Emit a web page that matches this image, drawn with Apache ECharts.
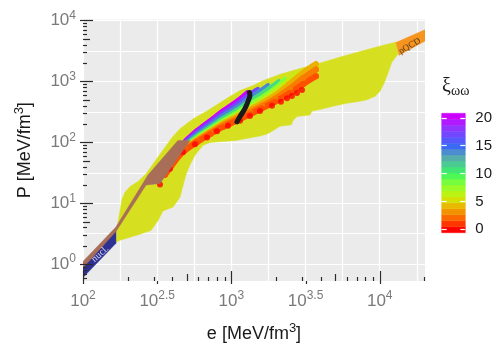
<!DOCTYPE html>
<html><head><meta charset="utf-8">
<script src="https://cdn.jsdelivr.net/npm/echarts@6/dist/echarts.min.js"></script>
<style>html,body{margin:0;padding:0;background:#fff}#c{width:500px;height:348px}</style>
</head><body><div id="c"></div>
<script>
// ---- axis ranges & tick labels (log10 units of e and P, MeV/fm^3) ----
const xRangeLog = [2, 4.305];
const yRangeLog = [-0.277, 4.016];
const xTickExps = ['2', '2.5', '3', '3.5', '4'];
const yTickExps = ['0', '1', '2', '3', '4'];
const colorbarTicks = [0, 5, 10, 15, 20];
const colorbarRange = [-0.6, 20.8];

// ---- bands: polygons [log10 e, log10 P] ----
const allowedRegion = [[2.222,0.359],[2.229,0.600],[2.249,0.873],[2.263,1.066],[2.283,1.178],[2.317,1.275],[2.371,1.355],[2.404,1.436],[2.425,1.484],[2.458,1.596],[2.505,1.757],[2.553,1.918],[2.600,2.079],[2.654,2.223],[2.741,2.384],[2.836,2.513],[2.970,2.722],[3.058,2.850],[3.146,2.931],[3.213,3.011],[3.328,3.116],[3.462,3.212],[3.577,3.285],[3.752,3.413],[3.934,3.534],[4.109,3.646],[4.123,3.445],[4.082,3.317],[4.049,3.092],[4.028,2.963],[4.001,2.834],[3.968,2.754],[3.914,2.698],[3.867,2.674],[3.779,2.641],[3.685,2.593],[3.597,2.537],[3.543,2.513],[3.530,2.449],[3.442,2.424],[3.415,2.352],[3.405,2.288],[3.328,2.264],[3.280,2.191],[3.240,2.135],[3.193,2.103],[3.031,2.031],[2.856,1.998],[2.809,1.950],[2.755,1.789],[2.721,1.629],[2.694,1.468],[2.667,1.227],[2.654,1.098],[2.607,0.937],[2.539,0.873],[2.505,0.712],[2.458,0.551],[2.357,0.471],[2.249,0.391]];
const brownBand = [[2.000,0.045],[2.222,0.608],[2.438,1.463],[2.640,2.031],[2.721,2.031],[2.519,1.323],[2.425,1.299],[2.222,0.535],[2.000,-0.059]];
const nuclearBand = [[2.000,-0.027],[2.222,0.568],[2.222,0.342],[2.000,-0.220]];
const pqcdBand = [[4.109,3.638],[4.305,3.847],[4.305,3.662],[4.130,3.429]];
const nuclLabelPos = [2.115, 0.166];
const pqcdLabelPos = [4.202, 3.579];

// ---- EoS curves coloured by xi_ww: [log10 e, log10 P] ----
const xiValues = [20, 17, 14, 11, 8, 6, 4, 2.5, 1.5];
const eosXi20 = [[2.687,2.031],[2.768,2.207],[2.856,2.368],[2.943,2.529],[3.038,2.690],[3.105,2.826]];
const eosXi17 = [[2.687,2.006],[2.768,2.175],[2.856,2.331],[2.943,2.486],[3.038,2.638],[3.125,2.802],[3.179,2.883]];
const eosXi14 = [[2.687,1.982],[2.768,2.143],[2.856,2.294],[2.943,2.444],[3.038,2.588],[3.125,2.746],[3.206,2.875],[3.247,2.947]];
const eosXi11 = [[2.687,1.963],[2.768,2.114],[2.856,2.259],[2.943,2.403],[3.038,2.542],[3.125,2.690],[3.206,2.810],[3.294,2.963],[3.321,3.011]];
const eosXi8 = [[2.687,1.942],[2.768,2.085],[2.856,2.227],[2.943,2.365],[3.038,2.497],[3.125,2.633],[3.206,2.749],[3.294,2.891],[3.361,3.051]];
const eosXi6 = [[2.687,1.923],[2.768,2.059],[2.856,2.198],[2.943,2.331],[3.038,2.457],[3.125,2.580],[3.206,2.693],[3.294,2.850],[3.395,3.043],[3.435,3.140]];
const eosXi4 = [[2.654,1.862],[2.687,1.902],[2.768,2.037],[2.856,2.172],[2.943,2.301],[3.038,2.420],[3.125,2.534],[3.206,2.641],[3.294,2.767],[3.395,2.963],[3.483,3.140],[3.570,3.285]];
const eosXi2p5 = [[2.586,1.596],[2.654,1.822],[2.687,1.886],[2.768,2.018],[2.856,2.151],[2.943,2.275],[3.038,2.387],[3.125,2.494],[3.206,2.596],[3.294,2.714],[3.395,2.883],[3.483,3.051],[3.570,3.196]];
const eosXi1p5 = [[2.553,1.468],[2.654,1.797],[2.687,1.870],[2.768,2.002],[2.856,2.132],[2.943,2.252],[3.038,2.358],[3.125,2.460],[3.206,2.558],[3.294,2.666],[3.395,2.810],[3.483,2.955],[3.570,3.084]];
const eosXi0 = [[2.519,1.307],[2.586,1.564],[2.674,1.838],[2.755,1.966],[2.836,2.079],[2.903,2.183],[2.977,2.272],[3.058,2.352],[3.125,2.432],[3.193,2.513],[3.274,2.601],[3.334,2.666],[3.375,2.722],[3.408,2.762],[3.442,2.810],[3.476,2.858]];
const blackCurve = [[3.038,2.336],[3.058,2.424],[3.082,2.513],[3.102,2.609],[3.115,2.690],[3.125,2.770],[3.122,2.818]];

// ---- colour scale ----
const xiStops = [[0,'#ff0000'],[1.5,'#ff5000'],[2.5,'#f87c00'],[4,'#ecb000'],[5,'#dcdc00'],[6.5,'#b8f514'],[8,'#88ff33'],[10,'#3cf560'],[11.5,'#48d08c'],[13,'#58a8b0'],[15,'#3a68f8'],[17,'#7048ff'],[18.5,'#9a30ff'],[20,'#cc00ff']];
function hex2rgb(h){return [parseInt(h.substr(1,2),16),parseInt(h.substr(3,2),16),parseInt(h.substr(5,2),16)];}
function colorFor(v){
  v = Math.max(0, Math.min(20, v));
  for (let i = 0; i < xiStops.length - 1; i++) {
    const a = xiStops[i], b = xiStops[i+1];
    if (v >= a[0] && v <= b[0]) {
      const t = (v - a[0]) / (b[0] - a[0]);
      const ca = hex2rgb(a[1]), cb = hex2rgb(b[1]);
      const c = ca.map((x, k) => Math.round(x + (cb[k] - x) * t));
      return 'rgb(' + c.join(',') + ')';
    }
  }
  return xiStops[xiStops.length-1][1];
}

const FONT = 'Liberation Sans, Arial, Helvetica, sans-serif';
const SERIF = 'Liberation Serif, DejaVu Serif, serif';
const gray = '#7a7a7a';
const tickCol = '#2b2b2b';
const labelRich = {
  b: {fontSize: 17, color: gray, fontFamily: FONT, lineHeight: 22, verticalAlign: 'middle'},
  s: {fontSize: 12, color: gray, fontFamily: FONT, lineHeight: 11, verticalAlign: 'top'}
};
const nameRich = {
  n: {fontSize: 18, color: '#1a1a1a', fontFamily: FONT, lineHeight: 24, verticalAlign: 'middle'},
  s: {fontSize: 13, color: '#1a1a1a', fontFamily: FONT, lineHeight: 12, verticalAlign: 'top'}
};

// tick positions (axis decoration)
const xTickVals = xTickExps.map(Number);
const yTickVals = yTickExps.map(Number);
const xGridVals = []; for (let v = 2; v <= xRangeLog[1] + 1e-9; v += 0.25) xGridVals.push(+v.toFixed(2));
const yGridVals = []; for (let v = 0; v <= yRangeLog[1] + 1e-9; v += 0.5) yGridVals.push(+v.toFixed(2));
function logTicks(range, mults){
  const out = [];
  for (let k = -1; k <= 5; k++) for (const m of mults) {
    const v = Math.log10(m) + k;
    if (v >= range[0] - 1e-9 && v <= range[1] + 1e-9) out.push(v);
  }
  return out;
}
const shortMults = [2,3,4,6,7,8,9];
// log-tick specs: [value, inner length, outer length]
const yTickSpecs = [].concat(
  logTicks(yRangeLog, [1]).map(v => [v, 10, 3]),
  logTicks(yRangeLog, [5]).map(v => [v, 7, 0]),
  logTicks(yRangeLog, shortMults).map(v => [v, 4, 0])
);
const xTickSpecs = [].concat(
  logTicks(xRangeLog, [1]).map(v => [v, 10, 3]),
  logTicks(xRangeLog, [5]).map(v => [v, 7, 0]),
  logTicks(xRangeLog, shortMults).map(v => [v, 4, 0]),
  [[2.5, 0, 3], [3.5, 0, 3]]
);

function polySeries(poly, color, z){
  return {
    type: 'custom', xAxisIndex: 0, yAxisIndex: 0, z: z, clip: true, silent: true,
    data: [poly[0]],
    renderItem: function(params, api){
      return {type: 'polygon', shape: {points: poly.map(p => api.coord(p))}, style: {fill: color, stroke: color, lineWidth: 0.5}};
    }
  };
}

const curves = [eosXi20, eosXi17, eosXi14, eosXi11, eosXi8, eosXi6, eosXi4, eosXi2p5, eosXi1p5];
const curveSeries = curves.map((c, i) => ({
  type: 'line', xAxisIndex: 0, yAxisIndex: 0, z: 3, data: c, smooth: 0.3,
  showSymbol: xiValues[i] <= 2.5, symbol: 'circle', symbolSize: 6,
  itemStyle: {color: colorFor(xiValues[i])},
  lineStyle: {color: colorFor(xiValues[i]), width: xiValues[i] <= 4 ? 6 : 3.6, cap: 'round'},
  silent: true
}));

// colour bar bins (legend decoration)
const nBins = 20;
const cbBins = [];
for (let i = 0; i < nBins; i++) {
  const lo = colorbarRange[0] + i * (colorbarRange[1] - colorbarRange[0]) / nBins;
  const hi = lo + (colorbarRange[1] - colorbarRange[0]) / nBins;
  cbBins.push([lo, hi]);
}

const titleGraphic = {
  type: 'text', left: 442, top: 77, z: 20,
  style: {text: '{x|ξ}{w|ωω}', rich: {
    x: {fontSize: 20, fontFamily: SERIF, fill: '#1a1a1a', lineHeight: 22, verticalAlign: 'middle'},
    w: {fontSize: 14, fontFamily: SERIF, fill: '#1a1a1a', lineHeight: 12, verticalAlign: 'bottom'}
  }}
};

const option = {
  animation: false,
  backgroundColor: '#ffffff',
  grid: [
    {left: 83, top: 19.5, width: 342, height: 267, show: true, backgroundColor: '#ebebeb', borderWidth: 0},
    {left: 441.7, top: 113.3, width: 23.6, height: 119.4, show: false}
  ],
  xAxis: [
    {type: 'value', gridIndex: 0, min: xRangeLog[0], max: xRangeLog[1],
     axisLine: {show: false, onZero: false},
     axisTick: {show: false, customValues: xGridVals},
     splitLine: {show: true, lineStyle: {color: '#ffffff', width: 1.2}},
     axisLabel: {customValues: xTickVals, margin: 9, rich: labelRich, alignMinLabel: 'center', alignMaxLabel: 'center',
       formatter: v => '{b|10}{s|' + xTickExps[xTickVals.findIndex(t => Math.abs(t - v) < 1e-6)] + '}'},
     name: '{n|e [MeV/fm}{s|3}{n|]}', nameLocation: 'middle', nameGap: 41,
     nameTextStyle: {rich: nameRich}},
    {type: 'value', gridIndex: 1, min: 0, max: 1, show: false}
  ],
  yAxis: [
    {type: 'value', gridIndex: 0, min: yRangeLog[0], max: yRangeLog[1],
     axisLine: {show: false, onZero: false},
     axisTick: {show: false, customValues: yGridVals},
     splitLine: {show: true, lineStyle: {color: '#ffffff', width: 1.2}},
     axisLabel: {customValues: yTickVals, margin: 7, rich: labelRich, align: 'right',
       formatter: v => '{b|10}{s|' + yTickExps[yTickVals.findIndex(t => Math.abs(t - v) < 1e-6)] + '}'},
     name: '{n|P [MeV/fm}{s|3}{n|]}', nameLocation: 'middle', nameGap: 46,
     nameTextStyle: {rich: nameRich}},
    {type: 'value', gridIndex: 1, min: colorbarRange[0], max: colorbarRange[1], position: 'left', z: 10,
     axisLine: {show: false, onZero: false}, splitLine: {show: false}, axisLabel: {show: false},
     axisTick: {show: true, inside: true, length: 5, customValues: colorbarTicks, lineStyle: {color: '#ffffff', width: 1.2}}},
    {type: 'value', gridIndex: 1, min: colorbarRange[0], max: colorbarRange[1], position: 'right', z: 10,
     axisLine: {show: false, onZero: false}, splitLine: {show: false},
     axisLabel: {customValues: colorbarTicks, margin: 10, fontSize: 15, color: '#1a1a1a', fontFamily: FONT},
     axisTick: {show: true, inside: true, length: 5, customValues: colorbarTicks, lineStyle: {color: '#ffffff', width: 1.2}}}
  ],
  graphic: [titleGraphic],
  series: [
    polySeries(allowedRegion, '#d6e021', 1),
    ...curveSeries,
    {type: 'scatter', xAxisIndex: 0, yAxisIndex: 0, z: 3, data: eosXi0, symbolSize: 6,
     itemStyle: {color: colorFor(0)}, silent: true},
    {type: 'line', xAxisIndex: 0, yAxisIndex: 0, z: 4, data: blackCurve, smooth: 0.3, showSymbol: false,
     lineStyle: {color: '#1a1a1a', width: 5, cap: 'round'}, silent: true},
    polySeries(nuclearBand, '#2e3192', 5),
    polySeries(brownBand, '#a86e58', 6),
    polySeries(pqcdBand, '#f7941d', 5),
    {type: 'scatter', xAxisIndex: 0, yAxisIndex: 0, z: 7, data: [nuclLabelPos], symbolSize: 1,
     itemStyle: {color: 'rgba(0,0,0,0)'}, silent: true,
     label: {show: true, position: 'inside', formatter: 'nucl.', rotate: 42, color: '#ffffff', fontSize: 10, fontFamily: SERIF}},
    {type: 'scatter', xAxisIndex: 0, yAxisIndex: 0, z: 7, data: [pqcdLabelPos], symbolSize: 1,
     itemStyle: {color: 'rgba(0,0,0,0)'}, silent: true,
     label: {show: true, position: 'inside', formatter: 'pQCD', rotate: 30, color: '#222222', fontSize: 9, fontFamily: SERIF}},
    {type: 'custom', xAxisIndex: 1, yAxisIndex: 1, z: 2, silent: true, data: cbBins,
     renderItem: function(params, api){
       const lo = api.value(0), hi = api.value(1);
       const p1 = api.coord([0, lo]), p2 = api.coord([1, hi]);
       const col = colorFor((lo + hi) / 2);
       return {type: 'rect', shape: {x: p1[0], y: p2[1], width: p2[0] - p1[0], height: p1[1] - p2[1]},
               style: {fill: col, stroke: col, lineWidth: 0.5}};
     }}
  ]
};
const chart = echarts.init(document.getElementById('c'));
chart.setOption(option);

// log ticks placed through the axis scales (decoration)
const finder = {xAxisIndex: 0, yAxisIndex: 0};
const origin = chart.convertToPixel(finder, [xRangeLog[0], yRangeLog[0]]);
const tickLines = [];
yTickSpecs.forEach(s => {
  const y = Math.round(chart.convertToPixel(finder, [xRangeLog[0], s[0]])[1]) + 0.5;
  tickLines.push({type: 'line', z: 30, silent: true, shape: {x1: origin[0] - s[2], y1: y, x2: origin[0] + s[1], y2: y},
                  style: {stroke: tickCol, lineWidth: 1.2}});
});
xTickSpecs.forEach(s => {
  const x = Math.round(chart.convertToPixel(finder, [s[0], yRangeLog[0]])[0]) + 0.5;
  tickLines.push({type: 'line', z: 30, silent: true, shape: {x1: x, y1: origin[1] + s[2], x2: x, y2: origin[1] - s[1]},
                  style: {stroke: tickCol, lineWidth: 1.2}});
});
chart.setOption({graphic: [titleGraphic].concat(tickLines)});
</script>
</body></html>
